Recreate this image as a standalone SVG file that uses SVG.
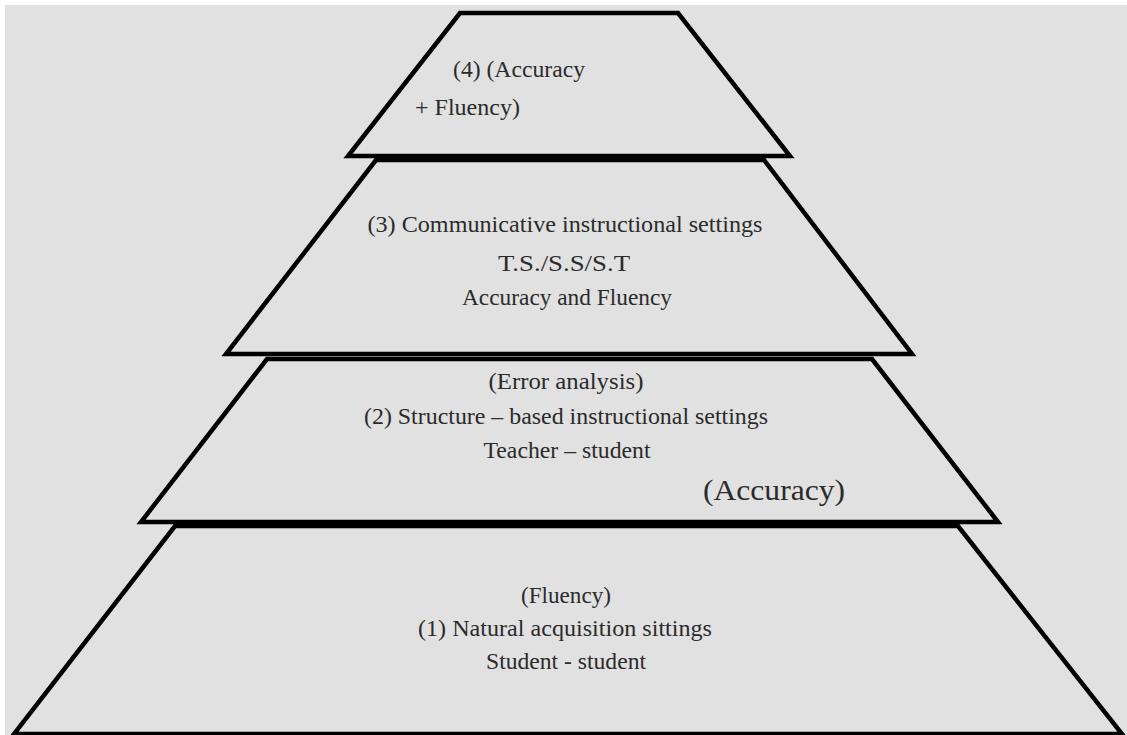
<svg xmlns="http://www.w3.org/2000/svg" width="1127" height="735" viewBox="0 0 1127 735">
<style>
.tier{fill:#e1e1e1;stroke:#000;stroke-width:4.5;stroke-linejoin:miter}
text{font-family:"Liberation Serif","Tinos","Times New Roman","DejaVu Serif",serif;fill:#2b2b2b}
.t{font-size:24px;text-anchor:middle}
.tl{font-size:24px}
.big{font-size:30px}
</style>
<rect x="0" y="0" width="1127" height="735" fill="#ffffff"/>
<rect x="5" y="5" width="1122" height="730" fill="#e1e1e1"/>
<g id="tier4">
<polygon class="tier" points="460,13 678,13 790,156 348,156"/>
<text class="tl" x="453" y="77" textLength="132" lengthAdjust="spacingAndGlyphs">(4) (Accuracy</text>
<text class="tl" x="415" y="115" textLength="105" lengthAdjust="spacingAndGlyphs">+ Fluency)</text>
</g>
<g id="tier3">
<polygon class="tier" points="376,160 764,160 912,354 226,354"/>
<text class="t" x="565" y="232" textLength="395" lengthAdjust="spacingAndGlyphs">(3) Communicative  instructional  settings</text>
<text class="t" x="564" y="271" textLength="132" lengthAdjust="spacingAndGlyphs">T.S./S.S/S.T</text>
<text class="t" x="567" y="305" textLength="210" lengthAdjust="spacingAndGlyphs">Accuracy and Fluency</text>
</g>
<g id="tier2">
<polygon class="tier" points="267,359 872,359 998,522 141,522"/>
<text class="t" x="566" y="389" textLength="155" lengthAdjust="spacingAndGlyphs">(Error analysis)</text>
<text class="t" x="566" y="424" textLength="404" lengthAdjust="spacingAndGlyphs">(2) Structure – based instructional  settings</text>
<text class="t" x="567" y="458" textLength="167" lengthAdjust="spacingAndGlyphs">Teacher – student</text>
<text class="big" x="703" y="500" textLength="142" lengthAdjust="spacingAndGlyphs">(Accuracy)</text>
</g>
<g id="tier1">
<polygon class="tier" points="175,526 958,526 1122,734 14,734"/>
<text class="t" x="566" y="603" textLength="90" lengthAdjust="spacingAndGlyphs">(Fluency)</text>
<text class="t" x="565" y="636" textLength="294" lengthAdjust="spacingAndGlyphs">(1) Natural acquisition  sittings</text>
<text class="t" x="566" y="669" textLength="160" lengthAdjust="spacingAndGlyphs">Student - student</text>
</g>
<g id="connectors"/>
</svg>
